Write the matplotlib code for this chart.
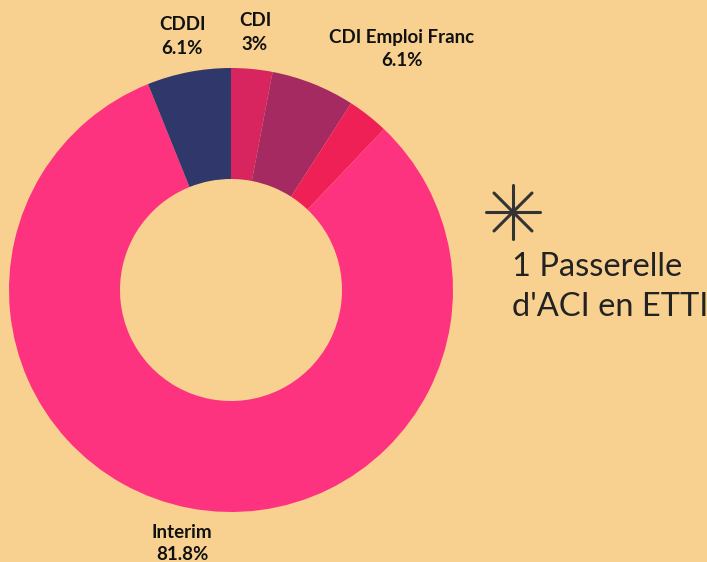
import matplotlib
matplotlib.use("Agg")
import matplotlib.pyplot as plt
from matplotlib.lines import Line2D

# Data
categories = ["CDI", "CDI Emploi Franc", "Passerelle d'ACI en ETTI", "Interim", "CDDI"]
values = [3.0, 6.1, 3.0, 81.8, 6.1]
shown_labels = ["CDI\n3%", "CDI Emploi Franc\n6.1%", None, "Interim\n81.8%", "CDDI\n6.1%"]
colors = ["#d8245f", "#a42a61", "#ee2056", "#fe3380", "#30376b"]
note_text = "1 Passerelle\nd'ACI en ETTI"

BG = "#f8d190"
W, H = 707, 562
fig = plt.figure(figsize=(W / 100, H / 100), dpi=100, facecolor=BG)

cx, cy, r = 231, 290, 222
ax = fig.add_axes([(cx - r) / W, (H - cy - r) / H, 2 * r / W, 2 * r / H])
ax.set_facecolor(BG)
ax.pie(values, colors=colors, startangle=90, counterclock=False, radius=1,
       wedgeprops=dict(width=0.5, linewidth=0))
ax.set_xlim(-1, 1)
ax.set_ylim(-1, 1)
ax.set_aspect("equal")
ax.axis("off")

fam = ["Lato", "DejaVu Sans"]
# label first-line centre positions (pixels), second line 23 px lower
label_pos = {0: (255, 21), 1: (402, 38), 3: (182, 532), 4: (182, 25)}
for i, (x, y) in label_pos.items():
    for k, line in enumerate(shown_labels[i].split("\n")):
        fig.text(x / W, 1 - (y + 23 * k) / H, line, ha="center", va="center",
                 fontsize=13.5, fontweight="bold", family=fam, color="#111111")

# asterisk
acx, acy = 513, 212
arms = [(27, 0), (0, 27), (19, 19), (19, -19)]
for dx, dy in arms:
    fig.add_artist(Line2D([(acx - dx) / W, (acx + dx) / W],
                          [1 - (acy - dy) / H, 1 - (acy + dy) / H],
                          transform=fig.transFigure, color="#333333",
                          linewidth=2.2, solid_capstyle="round"))

for k, line in enumerate(note_text.split("\n")):
    fig.text(512 / W, 1 - (276 + 40 * k) / H, line, ha="left", va="baseline",
             fontsize=23.5, fontweight="normal", family=fam, color="#222222")

fig.savefig("out.png", dpi=100, facecolor=BG)
